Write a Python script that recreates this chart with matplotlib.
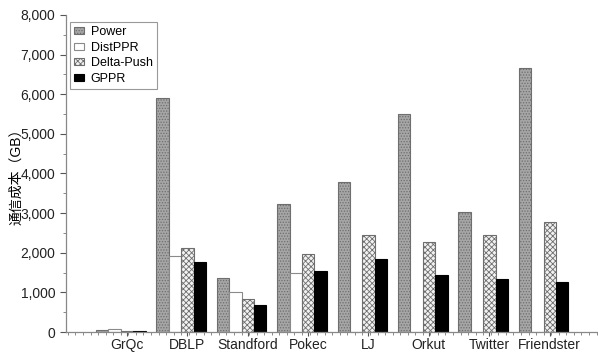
import numpy as np
import matplotlib
matplotlib.use("Agg")
import matplotlib.pyplot as plt
from matplotlib.ticker import MultipleLocator, FuncFormatter

plt.rcParams["font.family"] = ["Liberation Sans", "Noto Sans CJK SC"]
plt.rcParams["hatch.linewidth"] = 0.6

datasets = ["GrQc", "DBLP", "Standford", "Pokec", "LJ", "Orkut", "Twitter", "Friendster"]
power = [50, 5900, 1370, 3230, 3790, 5500, 3040, 6660]
distppr = [75, 1910, 1000, 1480, 10, 10, 10, 10]
delta_push = [25, 2125, 835, 1970, 2460, 2260, 2460, 2775]
gppr = [15, 1775, 680, 1545, 1840, 1445, 1330, 1255]

series = [
    ("Power", power, dict(facecolor="#a6a6a6", edgecolor="#6e6e6e", hatch="......")),
    ("DistPPR", distppr, dict(facecolor="white", edgecolor="#8a8a8a")),
    ("Delta-Push", delta_push, dict(facecolor="#f2f2f2", edgecolor="#6e6e6e", hatch="xxxxxx")),
    ("GPPR", gppr, dict(facecolor="black", edgecolor="black")),
]

fig = plt.figure(figsize=(5.98, 3.54), dpi=100)
ax = fig.add_axes([0.110, 0.062, 0.888, 0.896])

x = np.arange(len(datasets))
w = 0.205
for k, (name, vals, style) in enumerate(series):
    ax.bar(x + (k - 1.5) * w, vals, w, label=name, linewidth=0.8, **style)

ax.set_xlim(-0.91, 7.88)
ax.set_ylim(0, 8000)
ax.set_xticks(x + 0.1)
ax.set_xticklabels(datasets, fontsize=10)
ax.xaxis.set_minor_locator(MultipleLocator(0.125))
ax.yaxis.set_major_locator(MultipleLocator(1000))
ax.yaxis.set_minor_locator(MultipleLocator(500))
ax.yaxis.set_major_formatter(FuncFormatter(lambda v, p: f"{int(v):,}"))
ax.tick_params(axis="y", labelsize=10, colors="#555555", length=4, width=0.8)
ax.tick_params(axis="x", colors="#555555", length=3, width=0.8, pad=1.5)
ax.tick_params(which="minor", length=2.5, width=0.6, colors="#777777")
ax.tick_params(axis="both", labelcolor="#222222")

for s in ["top", "right"]:
    ax.spines[s].set_visible(False)
for s in ["left", "bottom"]:
    ax.spines[s].set_color("#888888")
    ax.spines[s].set_linewidth(0.9)

ax.set_ylabel("通信成本（GB）", fontsize=10, labelpad=-2)

leg = ax.legend(loc="upper left", bbox_to_anchor=(0.008, 0.978), borderaxespad=0,
                fontsize=9, handlelength=0.8, handleheight=0.45, handletextpad=0.5,
                labelspacing=0.28, borderpad=0.35, fancybox=False, framealpha=1)
leg.get_frame().set_edgecolor("#999999")
leg.get_frame().set_linewidth(0.8)

plt.savefig("out.png", dpi=100)
